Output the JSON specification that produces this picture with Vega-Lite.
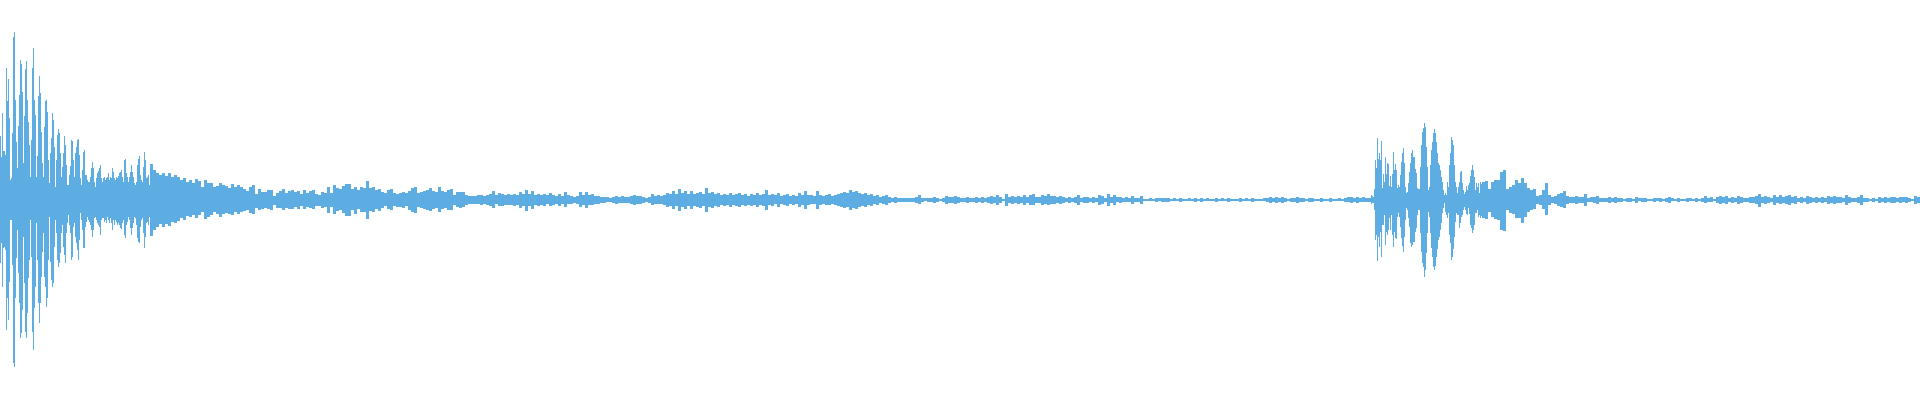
{
"$schema":"https://vega.github.io/schema/vega-lite/v6.json",
"width":1920,"height":400,"padding":0,
"autosize":{"type":"fit","contains":"padding"},
"background":"#ffffff",
"config":{"view":{"stroke":null}},
"datasets":{
"fine":[
{"x":0,"h":64,"l":-63},{"x":1,"h":43,"l":-43},{"x":2,"h":87,"l":-87},{"x":3,"h":49,"l":-48},{"x":4,"h":49,"l":-47},{"x":5,"h":45,"l":-50},{"x":6,"h":132,"l":-130},{"x":7,"h":99,"l":-98},{"x":8,"h":121,"l":-120},{"x":9,"h":82,"l":-82},
{"x":10,"h":20,"l":-20},{"x":11,"h":22,"l":-20},{"x":12,"h":67,"l":-65},{"x":13,"h":163,"l":-163},{"x":14,"h":168,"l":-167},{"x":15,"h":100,"l":-98},{"x":16,"h":58,"l":-58},{"x":17,"h":32,"l":-30},{"x":18,"h":74,"l":-73},{"x":19,"h":105,"l":-103},
{"x":20,"h":140,"l":-138},{"x":21,"h":136,"l":-133},{"x":22,"h":108,"l":-110},{"x":23,"h":37,"l":-37},{"x":24,"h":84,"l":-83},{"x":25,"h":131,"l":-132},{"x":26,"h":139,"l":-138},{"x":27,"h":100,"l":-113},{"x":28,"h":78,"l":-78},{"x":29,"h":55,"l":-60},
{"x":30,"h":23,"l":-20},{"x":31,"h":60,"l":-57},{"x":32,"h":132,"l":-132},{"x":33,"h":152,"l":-150},{"x":34,"h":100,"l":-108},{"x":35,"h":85,"l":-87},{"x":36,"h":23,"l":-23},{"x":37,"h":44,"l":-60},{"x":38,"h":104,"l":-103},{"x":39,"h":124,"l":-123},
{"x":40,"h":107,"l":-103},{"x":41,"h":68,"l":-77},{"x":42,"h":37,"l":-52},{"x":43,"h":23,"l":-33},{"x":44,"h":73,"l":-77},{"x":45,"h":99,"l":-87},{"x":46,"h":100,"l":-107},{"x":47,"h":88,"l":-98},{"x":48,"h":40,"l":-60},{"x":49,"h":17,"l":-17},
{"x":50,"h":47,"l":-62},{"x":51,"h":62,"l":-80},{"x":52,"h":87,"l":-87},{"x":53,"h":80,"l":-83},{"x":54,"h":53,"l":-47},{"x":55,"h":13,"l":-20},{"x":56,"h":40,"l":-33},{"x":57,"h":65,"l":-60},{"x":58,"h":71,"l":-67},{"x":59,"h":67,"l":-63},
{"x":60,"h":47,"l":-53},{"x":61,"h":23,"l":-33},{"x":62,"h":33,"l":-25},{"x":63,"h":47,"l":-47},{"x":64,"h":64,"l":-55},{"x":65,"h":55,"l":-63},{"x":66,"h":35,"l":-33},{"x":67,"h":15,"l":-23},{"x":68,"h":15,"l":-15},{"x":69,"h":25,"l":-25},
{"x":70,"h":34,"l":-33},{"x":71,"h":60,"l":-60},{"x":72,"h":59,"l":-57},{"x":73,"h":40,"l":-27},{"x":74,"h":23,"l":-23},{"x":75,"h":47,"l":-37},{"x":76,"h":53,"l":-43},{"x":77,"h":60,"l":-50},{"x":78,"h":61,"l":-60},{"x":79,"h":45,"l":-40},
{"x":80,"h":22,"l":-13},{"x":81,"h":15,"l":-20},{"x":82,"h":30,"l":-30},{"x":83,"h":48,"l":-48},{"x":84,"h":50,"l":-48},{"x":85,"h":25,"l":-27},{"x":86,"h":25,"l":-22},{"x":87,"h":20,"l":-17},{"x":88,"h":18,"l":-20},{"x":89,"h":18,"l":-22},
{"x":90,"h":23,"l":-25},{"x":91,"h":32,"l":-30},{"x":92,"h":38,"l":-37},{"x":93,"h":32,"l":-30},{"x":94,"h":18,"l":-18},{"x":95,"h":13,"l":-17},{"x":96,"h":22,"l":-20},{"x":97,"h":27,"l":-23},{"x":98,"h":29,"l":-25},{"x":99,"h":32,"l":-27},
{"x":100,"h":35,"l":-35},{"x":101,"h":22,"l":-20},{"x":102,"h":18,"l":-18},{"x":103,"h":22,"l":-18},{"x":104,"h":23,"l":-22},{"x":105,"h":20,"l":-20},{"x":106,"h":22,"l":-23},{"x":107,"h":23,"l":-17},{"x":108,"h":27,"l":-20},{"x":109,"h":20,"l":-23},
{"x":110,"h":23,"l":-18},{"x":111,"h":22,"l":-23},{"x":112,"h":32,"l":-30},{"x":113,"h":28,"l":-20},{"x":114,"h":22,"l":-25},{"x":115,"h":20,"l":-20},{"x":116,"h":23,"l":-22},{"x":117,"h":22,"l":-25},{"x":118,"h":24,"l":-23},{"x":119,"h":27,"l":-25},
{"x":120,"h":28,"l":-28},{"x":121,"h":30,"l":-29},{"x":122,"h":23,"l":-23},{"x":123,"h":18,"l":-20},{"x":124,"h":40,"l":-35},{"x":125,"h":41,"l":-38},{"x":126,"h":27,"l":-25},{"x":127,"h":23,"l":-22},{"x":128,"h":18,"l":-17},{"x":129,"h":23,"l":-20},
{"x":130,"h":28,"l":-28},{"x":131,"h":35,"l":-35},{"x":132,"h":28,"l":-28},{"x":133,"h":23,"l":-23},{"x":134,"h":17,"l":-17},{"x":135,"h":15,"l":-18},{"x":136,"h":18,"l":-25},{"x":137,"h":35,"l":-38},{"x":138,"h":41,"l":-42},{"x":139,"h":44,"l":-43},
{"x":140,"h":25,"l":-27},{"x":141,"h":20,"l":-20},{"x":142,"h":18,"l":-18},{"x":143,"h":33,"l":-33},{"x":144,"h":48,"l":-48},{"x":145,"h":40,"l":-37},{"x":146,"h":22,"l":-23},{"x":147,"h":23,"l":-22},{"x":148,"h":25,"l":-25},{"x":149,"h":15,"l":-17},
{"x":1371,"h":5,"l":-4},{"x":1372,"h":4,"l":-3},{"x":1373,"h":3,"l":-3},{"x":1374,"h":11,"l":-10},{"x":1375,"h":40,"l":-40},{"x":1376,"h":32,"l":-35},{"x":1377,"h":62,"l":-61},{"x":1378,"h":41,"l":-37},{"x":1379,"h":47,"l":-47},{"x":1380,"h":40,"l":-32},
{"x":1381,"h":59,"l":-57},{"x":1382,"h":12,"l":-25},{"x":1383,"h":26,"l":-25},{"x":1384,"h":18,"l":-15},{"x":1385,"h":43,"l":-45},{"x":1386,"h":26,"l":-32},{"x":1387,"h":37,"l":-35},{"x":1388,"h":36,"l":-30},{"x":1389,"h":14,"l":-18},{"x":1390,"h":24,"l":-30},
{"x":1391,"h":13,"l":-15},{"x":1392,"h":26,"l":-35},{"x":1393,"h":48,"l":-47},{"x":1394,"h":30,"l":-32},{"x":1395,"h":36,"l":-38},{"x":1396,"h":30,"l":-39},{"x":1397,"h":12,"l":-17},{"x":1398,"h":15,"l":-13},{"x":1399,"h":13,"l":-17},{"x":1400,"h":25,"l":-27},
{"x":1401,"h":38,"l":-38},{"x":1402,"h":47,"l":-46},{"x":1403,"h":52,"l":-52},{"x":1404,"h":37,"l":-37},{"x":1405,"h":13,"l":-20},{"x":1406,"h":7,"l":-8},{"x":1407,"h":8,"l":-10},{"x":1408,"h":17,"l":-18},{"x":1409,"h":28,"l":-27},{"x":1410,"h":37,"l":-43},
{"x":1411,"h":47,"l":-47},{"x":1412,"h":50,"l":-45},{"x":1413,"h":43,"l":-42},{"x":1414,"h":43,"l":-42},{"x":1415,"h":31,"l":-32},{"x":1416,"h":27,"l":-28},{"x":1417,"h":12,"l":-15},{"x":1418,"h":11,"l":-10},{"x":1419,"h":11,"l":-10},{"x":1420,"h":33,"l":-33},
{"x":1421,"h":55,"l":-52},{"x":1422,"h":68,"l":-63},{"x":1423,"h":72,"l":-67},{"x":1424,"h":77,"l":-77},{"x":1425,"h":73,"l":-70},{"x":1426,"h":53,"l":-53},{"x":1427,"h":33,"l":-33},{"x":1428,"h":10,"l":-12},{"x":1429,"h":13,"l":-17},{"x":1430,"h":35,"l":-33},
{"x":1431,"h":50,"l":-48},{"x":1432,"h":58,"l":-57},{"x":1433,"h":67,"l":-67},{"x":1434,"h":71,"l":-70},{"x":1435,"h":67,"l":-66},{"x":1436,"h":58,"l":-57},{"x":1437,"h":47,"l":-49},{"x":1438,"h":37,"l":-40},{"x":1439,"h":35,"l":-37},{"x":1440,"h":30,"l":-30},
{"x":1441,"h":23,"l":-23},{"x":1442,"h":18,"l":-13},{"x":1443,"h":10,"l":-8},{"x":1444,"h":5,"l":-3},{"x":1445,"h":7,"l":-12},{"x":1446,"h":5,"l":-15},{"x":1447,"h":18,"l":-18},{"x":1448,"h":13,"l":-13},{"x":1449,"h":35,"l":-35},{"x":1450,"h":47,"l":-43},
{"x":1451,"h":63,"l":-60},{"x":1452,"h":60,"l":-57},{"x":1453,"h":55,"l":-49},{"x":1454,"h":35,"l":-37},{"x":1455,"h":18,"l":-22},{"x":1456,"h":13,"l":-13},{"x":1457,"h":7,"l":-15},{"x":1458,"h":13,"l":-15},{"x":1459,"h":18,"l":-28},{"x":1460,"h":28,"l":-23},
{"x":1461,"h":29,"l":-17},{"x":1462,"h":17,"l":-15},{"x":1463,"h":10,"l":-10},{"x":1464,"h":6,"l":-7},{"x":1465,"h":8,"l":-10},{"x":1466,"h":14,"l":-14},{"x":1467,"h":10,"l":-15},{"x":1468,"h":15,"l":-8},{"x":1469,"h":17,"l":-14},{"x":1470,"h":24,"l":-25},
{"x":1471,"h":30,"l":-28},{"x":1472,"h":35,"l":-33},{"x":1473,"h":30,"l":-30},{"x":1474,"h":23,"l":-25},{"x":1475,"h":10,"l":-13},{"x":1476,"h":17,"l":-13},{"x":1477,"h":13,"l":-10},{"x":1478,"h":17,"l":-17},{"x":1479,"h":7,"l":-15},{"x":1480,"h":18,"l":-18},
{"x":1481,"h":16,"l":-16}
],
"coarse":[
{"x":151,"h":36,"l":-36},{"x":154,"h":30,"l":-30},{"x":157,"h":27,"l":-27},{"x":160,"h":25,"l":-24},{"x":163,"h":27,"l":-27},{"x":166,"h":24,"l":-24},{"x":169,"h":27,"l":-26},{"x":172,"h":23,"l":-22},{"x":175,"h":25,"l":-23},{"x":178,"h":23,"l":-21},
{"x":181,"h":20,"l":-18},{"x":184,"h":22,"l":-20},{"x":187,"h":18,"l":-16},{"x":190,"h":20,"l":-17},{"x":193,"h":17,"l":-15},{"x":196,"h":21,"l":-18},{"x":199,"h":19,"l":-15},{"x":202,"h":13,"l":-12},{"x":205,"h":20,"l":-19},{"x":208,"h":17,"l":-17},
{"x":211,"h":17,"l":-15},{"x":214,"h":13,"l":-12},{"x":217,"h":14,"l":-14},{"x":220,"h":17,"l":-17},{"x":223,"h":15,"l":-14},{"x":226,"h":14,"l":-13},{"x":229,"h":12,"l":-14},{"x":232,"h":16,"l":-15},{"x":235,"h":13,"l":-12},{"x":238,"h":15,"l":-14},
{"x":241,"h":13,"l":-12},{"x":244,"h":11,"l":-11},{"x":247,"h":9,"l":-10},{"x":250,"h":13,"l":-13},{"x":253,"h":15,"l":-14},{"x":256,"h":6,"l":-8},{"x":259,"h":11,"l":-10},{"x":262,"h":8,"l":-9},{"x":265,"h":8,"l":-8},{"x":268,"h":10,"l":-9},
{"x":271,"h":10,"l":-10},{"x":274,"h":4,"l":-5},{"x":277,"h":7,"l":-8},{"x":280,"h":9,"l":-8},{"x":283,"h":11,"l":-10},{"x":286,"h":7,"l":-8},{"x":289,"h":9,"l":-9},{"x":292,"h":10,"l":-9},{"x":295,"h":8,"l":-7},{"x":298,"h":9,"l":-9},
{"x":301,"h":6,"l":-6},{"x":304,"h":10,"l":-9},{"x":307,"h":7,"l":-7},{"x":310,"h":9,"l":-8},{"x":313,"h":10,"l":-9},{"x":316,"h":6,"l":-6},{"x":319,"h":5,"l":-6},{"x":322,"h":8,"l":-8},{"x":325,"h":7,"l":-7},{"x":328,"h":13,"l":-13},
{"x":331,"h":7,"l":-7},{"x":334,"h":15,"l":-14},{"x":337,"h":12,"l":-11},{"x":340,"h":11,"l":-10},{"x":343,"h":14,"l":-13},{"x":346,"h":16,"l":-16},{"x":349,"h":16,"l":-16},{"x":352,"h":11,"l":-10},{"x":355,"h":13,"l":-14},{"x":358,"h":10,"l":-9},
{"x":361,"h":13,"l":-12},{"x":364,"h":12,"l":-12},{"x":367,"h":19,"l":-19},{"x":370,"h":12,"l":-11},{"x":373,"h":13,"l":-12},{"x":376,"h":10,"l":-9},{"x":379,"h":11,"l":-11},{"x":382,"h":8,"l":-8},{"x":385,"h":7,"l":-6},{"x":388,"h":10,"l":-9},
{"x":391,"h":11,"l":-10},{"x":394,"h":7,"l":-6},{"x":397,"h":6,"l":-7},{"x":400,"h":7,"l":-7},{"x":403,"h":8,"l":-8},{"x":406,"h":7,"l":-6},{"x":409,"h":9,"l":-10},{"x":412,"h":12,"l":-12},{"x":415,"h":13,"l":-13},{"x":418,"h":7,"l":-7},
{"x":421,"h":8,"l":-8},{"x":424,"h":9,"l":-9},{"x":427,"h":10,"l":-10},{"x":430,"h":12,"l":-11},{"x":433,"h":9,"l":-9},{"x":436,"h":8,"l":-8},{"x":439,"h":13,"l":-12},{"x":442,"h":9,"l":-9},{"x":445,"h":8,"l":-8},{"x":448,"h":10,"l":-10},
{"x":451,"h":11,"l":-10},{"x":454,"h":5,"l":-5},{"x":457,"h":8,"l":-7},{"x":460,"h":8,"l":-8},{"x":463,"h":8,"l":-7},{"x":466,"h":5,"l":-5},{"x":469,"h":4,"l":-4},{"x":472,"h":4,"l":-4},{"x":475,"h":4,"l":-4},{"x":478,"h":5,"l":-4},
{"x":481,"h":5,"l":-5},{"x":484,"h":4,"l":-4},{"x":487,"h":5,"l":-5},{"x":490,"h":6,"l":-6},{"x":493,"h":9,"l":-8},{"x":496,"h":5,"l":-4},{"x":499,"h":7,"l":-6},{"x":502,"h":6,"l":-6},{"x":505,"h":5,"l":-5},{"x":508,"h":6,"l":-5},
{"x":511,"h":5,"l":-5},{"x":514,"h":6,"l":-6},{"x":517,"h":5,"l":-5},{"x":520,"h":8,"l":-8},{"x":523,"h":6,"l":-6},{"x":526,"h":10,"l":-11},{"x":529,"h":6,"l":-6},{"x":532,"h":9,"l":-9},{"x":535,"h":5,"l":-5},{"x":538,"h":6,"l":-6},
{"x":541,"h":5,"l":-5},{"x":544,"h":6,"l":-6},{"x":547,"h":5,"l":-4},{"x":550,"h":7,"l":-6},{"x":553,"h":5,"l":-5},{"x":556,"h":4,"l":-4},{"x":559,"h":6,"l":-6},{"x":562,"h":4,"l":-4},{"x":565,"h":8,"l":-7},{"x":568,"h":5,"l":-4},
{"x":571,"h":4,"l":-4},{"x":574,"h":3,"l":-3},{"x":577,"h":4,"l":-4},{"x":580,"h":8,"l":-7},{"x":583,"h":5,"l":-5},{"x":586,"h":8,"l":-8},{"x":589,"h":5,"l":-5},{"x":592,"h":6,"l":-5},{"x":595,"h":4,"l":-4},{"x":598,"h":4,"l":-4},
{"x":601,"h":3,"l":-3},{"x":604,"h":3,"l":-3},{"x":607,"h":3,"l":-2},{"x":610,"h":2,"l":-2},{"x":613,"h":3,"l":-3},{"x":616,"h":4,"l":-4},{"x":619,"h":3,"l":-3},{"x":622,"h":4,"l":-3},{"x":625,"h":3,"l":-3},{"x":628,"h":3,"l":-3},
{"x":631,"h":4,"l":-4},{"x":634,"h":5,"l":-5},{"x":637,"h":4,"l":-4},{"x":640,"h":4,"l":-4},{"x":643,"h":3,"l":-3},{"x":646,"h":2,"l":-2},{"x":649,"h":3,"l":-3},{"x":652,"h":6,"l":-5},{"x":655,"h":4,"l":-4},{"x":658,"h":5,"l":-4},
{"x":661,"h":4,"l":-4},{"x":664,"h":5,"l":-5},{"x":667,"h":7,"l":-7},{"x":670,"h":6,"l":-6},{"x":673,"h":9,"l":-9},{"x":676,"h":6,"l":-6},{"x":679,"h":11,"l":-11},{"x":682,"h":7,"l":-7},{"x":685,"h":9,"l":-9},{"x":688,"h":6,"l":-6},
{"x":691,"h":9,"l":-9},{"x":694,"h":6,"l":-6},{"x":697,"h":7,"l":-7},{"x":700,"h":8,"l":-8},{"x":703,"h":6,"l":-6},{"x":706,"h":12,"l":-12},{"x":709,"h":7,"l":-7},{"x":712,"h":8,"l":-8},{"x":715,"h":6,"l":-6},{"x":718,"h":7,"l":-7},
{"x":721,"h":5,"l":-5},{"x":724,"h":6,"l":-6},{"x":727,"h":5,"l":-5},{"x":730,"h":7,"l":-7},{"x":733,"h":5,"l":-5},{"x":736,"h":6,"l":-6},{"x":739,"h":7,"l":-7},{"x":742,"h":5,"l":-5},{"x":745,"h":6,"l":-6},{"x":748,"h":4,"l":-5},
{"x":751,"h":6,"l":-6},{"x":754,"h":5,"l":-5},{"x":757,"h":7,"l":-7},{"x":760,"h":5,"l":-5},{"x":763,"h":6,"l":-6},{"x":766,"h":10,"l":-10},{"x":769,"h":5,"l":-5},{"x":772,"h":6,"l":-6},{"x":775,"h":5,"l":-4},{"x":778,"h":7,"l":-7},
{"x":781,"h":4,"l":-4},{"x":784,"h":5,"l":-5},{"x":787,"h":6,"l":-6},{"x":790,"h":4,"l":-4},{"x":793,"h":5,"l":-5},{"x":796,"h":4,"l":-4},{"x":799,"h":7,"l":-7},{"x":802,"h":5,"l":-5},{"x":805,"h":9,"l":-9},{"x":808,"h":5,"l":-5},
{"x":811,"h":5,"l":-4},{"x":814,"h":4,"l":-4},{"x":817,"h":9,"l":-9},{"x":820,"h":5,"l":-5},{"x":823,"h":4,"l":-4},{"x":826,"h":5,"l":-5},{"x":829,"h":6,"l":-5},{"x":832,"h":4,"l":-4},{"x":835,"h":5,"l":-5},{"x":838,"h":6,"l":-6},
{"x":841,"h":7,"l":-7},{"x":844,"h":8,"l":-8},{"x":847,"h":7,"l":-7},{"x":850,"h":10,"l":-10},{"x":853,"h":8,"l":-8},{"x":856,"h":9,"l":-9},{"x":859,"h":7,"l":-7},{"x":862,"h":6,"l":-6},{"x":865,"h":7,"l":-7},{"x":868,"h":5,"l":-5},
{"x":871,"h":6,"l":-6},{"x":874,"h":4,"l":-4},{"x":877,"h":5,"l":-5},{"x":880,"h":3,"l":-3},{"x":883,"h":4,"l":-4},{"x":886,"h":5,"l":-5},{"x":889,"h":3,"l":-3},{"x":892,"h":2,"l":-2},{"x":895,"h":3,"l":-3},{"x":898,"h":2,"l":-2},
{"x":901,"h":2,"l":-2},{"x":904,"h":2,"l":-2},{"x":907,"h":2,"l":-2},{"x":910,"h":2,"l":-2},{"x":913,"h":2,"l":-2},{"x":916,"h":3,"l":-3},{"x":919,"h":5,"l":-4},{"x":922,"h":2,"l":-2},{"x":925,"h":2,"l":-1},{"x":928,"h":2,"l":-2},
{"x":931,"h":2,"l":-2},{"x":934,"h":3,"l":-3},{"x":937,"h":2,"l":-2},{"x":940,"h":1,"l":-1},{"x":943,"h":2,"l":-2},{"x":946,"h":4,"l":-4},{"x":949,"h":3,"l":-3},{"x":952,"h":3,"l":-3},{"x":955,"h":4,"l":-4},{"x":958,"h":3,"l":-3},
{"x":961,"h":2,"l":-2},{"x":964,"h":2,"l":-2},{"x":967,"h":3,"l":-3},{"x":970,"h":2,"l":-2},{"x":973,"h":2,"l":-2},{"x":976,"h":3,"l":-3},{"x":979,"h":2,"l":-2},{"x":982,"h":3,"l":-3},{"x":985,"h":2,"l":-2},{"x":988,"h":3,"l":-3},
{"x":991,"h":4,"l":-4},{"x":994,"h":3,"l":-3},{"x":997,"h":5,"l":-5},{"x":1000,"h":3,"l":-3},{"x":1003,"h":1,"l":-1},{"x":1006,"h":6,"l":-6},{"x":1009,"h":3,"l":-3},{"x":1012,"h":4,"l":-4},{"x":1015,"h":3,"l":-3},{"x":1018,"h":4,"l":-4},
{"x":1021,"h":3,"l":-3},{"x":1024,"h":5,"l":-5},{"x":1027,"h":3,"l":-3},{"x":1030,"h":5,"l":-5},{"x":1033,"h":6,"l":-5},{"x":1036,"h":3,"l":-3},{"x":1039,"h":3,"l":-3},{"x":1042,"h":5,"l":-5},{"x":1045,"h":4,"l":-4},{"x":1048,"h":6,"l":-5},
{"x":1051,"h":4,"l":-4},{"x":1054,"h":4,"l":-4},{"x":1057,"h":3,"l":-3},{"x":1060,"h":4,"l":-4},{"x":1063,"h":3,"l":-3},{"x":1066,"h":2,"l":-2},{"x":1069,"h":3,"l":-3},{"x":1072,"h":2,"l":-2},{"x":1075,"h":3,"l":-3},{"x":1078,"h":5,"l":-5},
{"x":1081,"h":2,"l":-2},{"x":1084,"h":3,"l":-3},{"x":1087,"h":3,"l":-3},{"x":1090,"h":2,"l":-2},{"x":1093,"h":3,"l":-3},{"x":1096,"h":2,"l":-2},{"x":1099,"h":5,"l":-5},{"x":1102,"h":4,"l":-4},{"x":1105,"h":2,"l":-2},{"x":1108,"h":6,"l":-6},
{"x":1111,"h":3,"l":-3},{"x":1114,"h":5,"l":-5},{"x":1117,"h":3,"l":-2},{"x":1120,"h":3,"l":-3},{"x":1123,"h":2,"l":-2},{"x":1126,"h":3,"l":-2},{"x":1129,"h":2,"l":-2},{"x":1132,"h":4,"l":-4},{"x":1135,"h":2,"l":-2},{"x":1138,"h":2,"l":-2},
{"x":1141,"h":4,"l":-4},{"x":1144,"h":1,"l":-1},{"x":1147,"h":1,"l":-1},{"x":1150,"h":2,"l":-1},{"x":1153,"h":1,"l":-1},{"x":1156,"h":2,"l":-2},{"x":1159,"h":2,"l":-1},{"x":1162,"h":2,"l":-2},{"x":1165,"h":2,"l":-2},{"x":1168,"h":2,"l":-2},
{"x":1171,"h":1,"l":-1},{"x":1174,"h":2,"l":-1},{"x":1177,"h":1,"l":-1},{"x":1180,"h":2,"l":-2},{"x":1183,"h":1,"l":-1},{"x":1186,"h":1,"l":-1},{"x":1189,"h":2,"l":-1},{"x":1192,"h":1,"l":-1},{"x":1195,"h":2,"l":-2},{"x":1198,"h":1,"l":-1},
{"x":1201,"h":2,"l":-2},{"x":1204,"h":1,"l":-1},{"x":1207,"h":2,"l":-1},{"x":1210,"h":1,"l":-1},{"x":1213,"h":1,"l":-1},{"x":1216,"h":2,"l":-2},{"x":1219,"h":1,"l":-1},{"x":1222,"h":2,"l":-1},{"x":1225,"h":1,"l":-1},{"x":1228,"h":2,"l":-2},
{"x":1231,"h":1,"l":-1},{"x":1234,"h":1,"l":-1},{"x":1237,"h":1,"l":-1},{"x":1240,"h":2,"l":-2},{"x":1243,"h":1,"l":-1},{"x":1246,"h":2,"l":-1},{"x":1249,"h":1,"l":-1},{"x":1252,"h":2,"l":-2},{"x":1255,"h":1,"l":-1},{"x":1258,"h":1,"l":-1},
{"x":1261,"h":1,"l":-1},{"x":1264,"h":2,"l":-1},{"x":1267,"h":2,"l":-2},{"x":1270,"h":3,"l":-3},{"x":1273,"h":2,"l":-2},{"x":1276,"h":3,"l":-3},{"x":1279,"h":2,"l":-2},{"x":1282,"h":3,"l":-3},{"x":1285,"h":2,"l":-2},{"x":1288,"h":1,"l":-1},
{"x":1291,"h":2,"l":-2},{"x":1294,"h":2,"l":-2},{"x":1297,"h":3,"l":-3},{"x":1300,"h":2,"l":-2},{"x":1303,"h":2,"l":-2},{"x":1306,"h":1,"l":-1},{"x":1309,"h":2,"l":-2},{"x":1312,"h":2,"l":-2},{"x":1315,"h":1,"l":-1},{"x":1318,"h":1,"l":-1},
{"x":1321,"h":2,"l":-2},{"x":1324,"h":1,"l":-1},{"x":1327,"h":1,"l":-1},{"x":1330,"h":2,"l":-2},{"x":1333,"h":1,"l":-1},{"x":1336,"h":1,"l":-1},{"x":1339,"h":2,"l":-1},{"x":1342,"h":1,"l":-1},{"x":1345,"h":2,"l":-2},{"x":1348,"h":3,"l":-2},
{"x":1351,"h":3,"l":-3},{"x":1354,"h":2,"l":-2},{"x":1357,"h":3,"l":-3},{"x":1360,"h":2,"l":-2},{"x":1363,"h":3,"l":-2},{"x":1366,"h":2,"l":-2},{"x":1369,"h":2,"l":-2},
{"x":1483,"h":18,"l":-18},{"x":1486,"h":19,"l":-19},{"x":1489,"h":11,"l":-12},{"x":1492,"h":18,"l":-17},{"x":1495,"h":20,"l":-19},{"x":1498,"h":20,"l":-20},
{"x":1501,"h":28,"l":-30},{"x":1504,"h":30,"l":-31},{"x":1507,"h":11,"l":-10},{"x":1510,"h":13,"l":-13},{"x":1513,"h":15,"l":-14},{"x":1516,"h":20,"l":-18},{"x":1519,"h":17,"l":-18},{"x":1522,"h":22,"l":-23},{"x":1525,"h":17,"l":-17},{"x":1528,"h":12,"l":-12},
{"x":1531,"h":10,"l":-10},{"x":1534,"h":11,"l":-9},{"x":1537,"h":4,"l":-4},{"x":1540,"h":5,"l":-5},{"x":1543,"h":10,"l":-9},{"x":1546,"h":17,"l":-15},{"x":1549,"h":5,"l":-5},{"x":1552,"h":3,"l":-3},{"x":1555,"h":4,"l":-4},{"x":1558,"h":6,"l":-6},
{"x":1561,"h":7,"l":-7},{"x":1564,"h":9,"l":-8},{"x":1567,"h":4,"l":-4},{"x":1570,"h":3,"l":-3},{"x":1573,"h":3,"l":-3},{"x":1576,"h":4,"l":-4},{"x":1579,"h":3,"l":-3},{"x":1582,"h":3,"l":-3},{"x":1585,"h":6,"l":-6},{"x":1588,"h":2,"l":-2},
{"x":1591,"h":3,"l":-2},{"x":1594,"h":3,"l":-3},{"x":1597,"h":4,"l":-4},{"x":1600,"h":2,"l":-2},{"x":1603,"h":2,"l":-2},{"x":1606,"h":2,"l":-2},{"x":1609,"h":3,"l":-3},{"x":1612,"h":2,"l":-2},{"x":1615,"h":3,"l":-3},{"x":1618,"h":2,"l":-2},
{"x":1621,"h":2,"l":-2},{"x":1624,"h":1,"l":-1},{"x":1627,"h":2,"l":-2},{"x":1630,"h":2,"l":-2},{"x":1633,"h":1,"l":-1},{"x":1636,"h":3,"l":-3},{"x":1639,"h":2,"l":-1},{"x":1642,"h":2,"l":-2},{"x":1645,"h":2,"l":-2},{"x":1648,"h":1,"l":-1},
{"x":1651,"h":1,"l":-1},{"x":1654,"h":2,"l":-2},{"x":1657,"h":2,"l":-1},{"x":1660,"h":2,"l":-2},{"x":1663,"h":1,"l":-1},{"x":1666,"h":2,"l":-2},{"x":1669,"h":3,"l":-3},{"x":1672,"h":2,"l":-1},{"x":1675,"h":1,"l":-1},{"x":1678,"h":2,"l":-2},
{"x":1681,"h":1,"l":-1},{"x":1684,"h":1,"l":-1},{"x":1687,"h":2,"l":-2},{"x":1690,"h":2,"l":-1},{"x":1693,"h":1,"l":-1},{"x":1696,"h":2,"l":-2},{"x":1699,"h":1,"l":-1},{"x":1702,"h":2,"l":-2},{"x":1705,"h":4,"l":-3},{"x":1708,"h":2,"l":-2},
{"x":1711,"h":3,"l":-2},{"x":1714,"h":1,"l":-1},{"x":1717,"h":3,"l":-3},{"x":1720,"h":4,"l":-4},{"x":1723,"h":3,"l":-3},{"x":1726,"h":4,"l":-4},{"x":1729,"h":2,"l":-2},{"x":1732,"h":3,"l":-3},{"x":1735,"h":2,"l":-2},{"x":1738,"h":4,"l":-4},
{"x":1741,"h":3,"l":-3},{"x":1744,"h":2,"l":-2},{"x":1747,"h":2,"l":-2},{"x":1750,"h":3,"l":-3},{"x":1753,"h":3,"l":-3},{"x":1756,"h":4,"l":-4},{"x":1759,"h":6,"l":-7},{"x":1762,"h":3,"l":-3},{"x":1765,"h":4,"l":-4},{"x":1768,"h":3,"l":-3},
{"x":1771,"h":2,"l":-2},{"x":1774,"h":5,"l":-5},{"x":1777,"h":3,"l":-3},{"x":1780,"h":5,"l":-4},{"x":1783,"h":3,"l":-3},{"x":1786,"h":4,"l":-4},{"x":1789,"h":5,"l":-5},{"x":1792,"h":3,"l":-3},{"x":1795,"h":4,"l":-4},{"x":1798,"h":2,"l":-2},
{"x":1801,"h":3,"l":-3},{"x":1804,"h":2,"l":-2},{"x":1807,"h":4,"l":-4},{"x":1810,"h":3,"l":-3},{"x":1813,"h":2,"l":-2},{"x":1816,"h":3,"l":-3},{"x":1819,"h":2,"l":-2},{"x":1822,"h":3,"l":-3},{"x":1825,"h":2,"l":-2},{"x":1828,"h":4,"l":-4},
{"x":1831,"h":3,"l":-3},{"x":1834,"h":4,"l":-4},{"x":1837,"h":3,"l":-3},{"x":1840,"h":3,"l":-3},{"x":1843,"h":2,"l":-2},{"x":1846,"h":5,"l":-5},{"x":1849,"h":3,"l":-3},{"x":1852,"h":2,"l":-2},{"x":1855,"h":2,"l":-2},{"x":1858,"h":3,"l":-3},
{"x":1861,"h":5,"l":-5},{"x":1864,"h":2,"l":-2},{"x":1867,"h":2,"l":-2},{"x":1870,"h":1,"l":-1},{"x":1873,"h":2,"l":-2},{"x":1876,"h":1,"l":-1},{"x":1879,"h":3,"l":-3},{"x":1882,"h":2,"l":-2},{"x":1885,"h":3,"l":-3},{"x":1888,"h":2,"l":-2},
{"x":1891,"h":3,"l":-3},{"x":1894,"h":3,"l":-3},{"x":1897,"h":2,"l":-2},{"x":1900,"h":3,"l":-3},{"x":1903,"h":3,"l":-2},{"x":1906,"h":3,"l":-3},{"x":1909,"h":2,"l":-2},{"x":1912,"h":1,"l":-1},{"x":1915,"h":4,"l":-4},{"x":1918,"h":3,"l":-3}
]
},
"encoding":{
"x":{"field":"x","type":"quantitative","axis":null,"scale":{"domain":[-0.5,1919.5],"nice":false,"zero":false}},
"y":{"field":"h","type":"quantitative","axis":null,"scale":{"domain":[-200,200],"nice":false,"zero":false}},
"y2":{"field":"l"}
},
"layer":[
{"data":{"name":"coarse"},"mark":{"type":"rule","strokeWidth":3,"color":"#5DADE2"}},
{"data":{"name":"fine"},"mark":{"type":"rule","strokeWidth":1,"color":"#5DADE2"}}
]
}
